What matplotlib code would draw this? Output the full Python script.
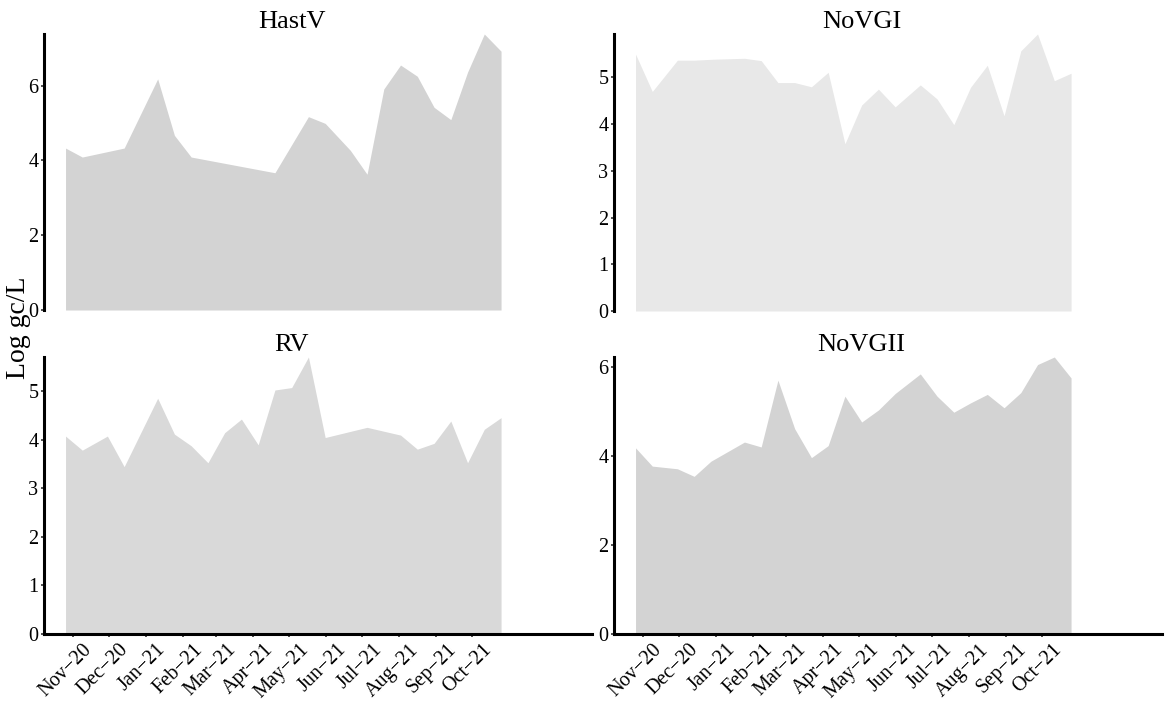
import matplotlib
matplotlib.use('Agg')
import matplotlib.pyplot as plt
import matplotlib.transforms as mtrans
import pandas as pd

plt.rcParams['font.family'] = ['Liberation Serif', 'DejaVu Serif']

# datos (log gc/L)
hastv_fechas = ['2020-10-26', '2020-11-09', '2020-12-14', '2021-01-11', '2021-01-25',
                '2021-02-08', '2021-04-19', '2021-05-17', '2021-05-31', '2021-06-21',
                '2021-07-05', '2021-07-19', '2021-08-02', '2021-08-16', '2021-08-30',
                '2021-09-13', '2021-09-27', '2021-10-11', '2021-10-25']
hastv_vals = [4.33, 4.09, 4.33, 6.18, 4.67, 4.09, 3.67, 5.17, 4.99, 4.27,
              3.63, 5.91, 6.55, 6.25, 5.42, 5.09, 6.36, 7.38, 6.92]

novgi_fechas = ['2020-10-26', '2020-11-09', '2020-11-30', '2020-12-14', '2020-12-30',
                '2021-01-25', '2021-02-08', '2021-02-22', '2021-03-08', '2021-03-22',
                '2021-04-05', '2021-04-19', '2021-05-03', '2021-05-17', '2021-05-31',
                '2021-06-21', '2021-07-05', '2021-07-19', '2021-08-02', '2021-08-16',
                '2021-08-30', '2021-09-13', '2021-09-27', '2021-10-11', '2021-10-25']
novgi_vals = [5.50, 4.70, 5.37, 5.37, 5.39, 5.41, 5.36, 4.89, 4.89, 4.80,
              5.11, 3.58, 4.41, 4.75, 4.37, 4.84, 4.54, 3.99, 4.79, 5.26,
              4.18, 5.57, 5.93, 4.93, 5.09]

rv_fechas = ['2020-10-26', '2020-11-09', '2020-11-30', '2020-12-14', '2021-01-11',
             '2021-01-25', '2021-02-08', '2021-02-22', '2021-03-08', '2021-03-22',
             '2021-04-05', '2021-04-19', '2021-05-03', '2021-05-17', '2021-05-31',
             '2021-07-05', '2021-08-02', '2021-08-16', '2021-08-30', '2021-09-13',
             '2021-09-27', '2021-10-11', '2021-10-25']
rv_vals = [4.08, 3.79, 4.08, 3.45, 4.86, 4.12, 3.88, 3.53, 4.15, 4.43,
           3.90, 5.03, 5.08, 5.71, 4.05, 4.26, 4.10, 3.81, 3.93, 4.39,
           3.53, 4.22, 4.46]

novgii_fechas = ['2020-10-26', '2020-11-09', '2020-11-30', '2020-12-14', '2020-12-28',
                 '2021-01-25', '2021-02-08', '2021-02-22', '2021-03-08', '2021-03-22',
                 '2021-04-05', '2021-04-19', '2021-05-03', '2021-05-17', '2021-05-31',
                 '2021-06-21', '2021-07-05', '2021-07-19', '2021-08-02', '2021-08-16',
                 '2021-08-30', '2021-09-13', '2021-09-27', '2021-10-11', '2021-10-25']
novgii_vals = [4.18, 3.77, 3.71, 3.54, 3.88, 4.31, 4.20, 5.70, 4.61, 3.96,
               4.23, 5.34, 4.76, 5.03, 5.40, 5.84, 5.34, 4.98, 5.19, 5.38,
               5.08, 5.42, 6.05, 6.22, 5.75]

fechas_ticks = pd.date_range('2020-11-01', '2021-10-01', freq='MS')
etiquetas_ticks = ['Nov−20', 'Dec−20', 'Jan−21', 'Feb−21', 'Mar−21', 'Apr−21',
                   'May−21', 'Jun−21', 'Jul−21', 'Aug−21', 'Sep−21', 'Oct−21']

W, H = 1170, 702
fig = plt.figure(figsize=(W / 100, H / 100), dpi=100)


def panel(izq, arriba, der, abajo):
    return fig.add_axes([izq / W, 1 - abajo / H, (der - izq) / W, (abajo - arriba) / H])


paneles = [
    ('HastV', hastv_fechas, hastv_vals, '#d3d3d3', (44, 34, 592, 310), [0, 2, 4, 6], False),
    ('NoVGI', novgi_fechas, novgi_vals, '#e8e8e8', (614, 34, 1162, 311), [0, 1, 2, 3, 4, 5], False),
    ('RV', rv_fechas, rv_vals, '#d9d9d9', (44, 357, 592, 634), [0, 1, 2, 3, 4, 5], True),
    ('NoVGII', novgii_fechas, novgii_vals, '#d3d3d3', (614, 357, 1162, 634), [0, 2, 4, 6], True),
]

for titulo, fechas, vals, color, caja, yticks, abajo in paneles:
    ax = panel(*caja)
    x = pd.to_datetime(fechas)
    ax.fill_between(x, 0, vals, color=color, linewidth=0)
    ax.set_xlim(pd.Timestamp('2020-10-08'), pd.Timestamp('2022-01-09'))
    ax.set_ylim(0, max(vals))
    ax.set_yticks(yticks)
    ax.set_title(titulo, fontsize=19, pad=4, x=0.452)
    for s in ['top', 'right']:
        ax.spines[s].set_visible(False)
    ax.spines['left'].set_linewidth(2.2)
    ax.tick_params(axis='y', length=2.5, width=1.2, color='#333333', pad=1.5, labelsize=14.5)
    ax.set_xticks(fechas_ticks)
    if abajo:
        ax.spines['bottom'].set_linewidth(2.2)
        ax.set_xticklabels(etiquetas_ticks)
        ax.tick_params(axis='x', length=2.5, width=1.2, color='#333333', pad=2.0, labelsize=14.5)
        desplaza = mtrans.ScaledTranslation(0.10, 0, fig.dpi_scale_trans)
        for lab in ax.get_xticklabels():
            lab.set_rotation(45)
            lab.set_ha('right')
            lab.set_va('top')
            lab.set_rotation_mode('anchor')
            lab.set_transform(lab.get_transform() + desplaza)
    else:
        ax.spines['bottom'].set_visible(False)
        ax.tick_params(axis='x', length=0, labelbottom=False)

fig.text(0.0155, 1 - 328 / H, 'Log gc/L', rotation=90, fontsize=20, ha='center', va='center')

fig.savefig('out.png', dpi=100)
